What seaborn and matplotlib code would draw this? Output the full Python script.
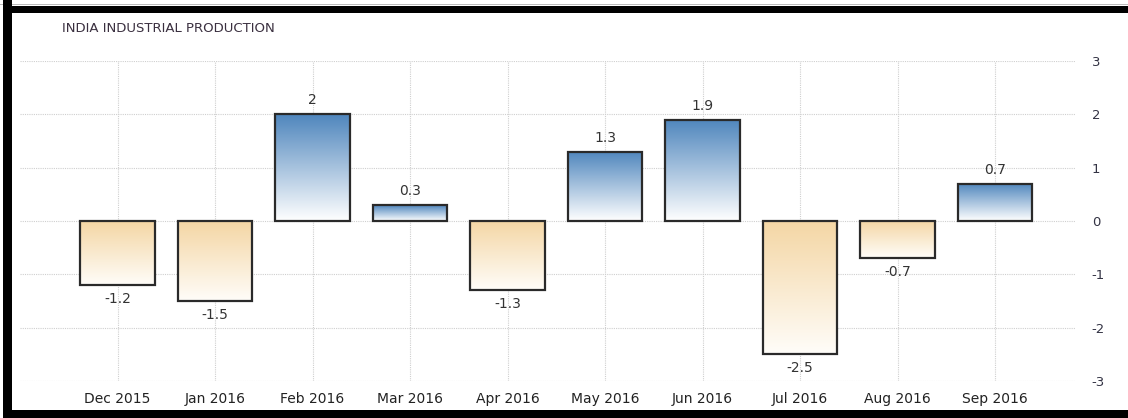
import numpy as np
import pandas as pd
import seaborn as sns
import matplotlib.pyplot as plt
from matplotlib.patches import Rectangle
from matplotlib.colors import LinearSegmentedColormap

# data
months = ["Dec 2015", "Jan 2016", "Feb 2016", "Mar 2016", "Apr 2016",
          "May 2016", "Jun 2016", "Jul 2016", "Aug 2016", "Sep 2016"]
values = [-1.2, -1.5, 2.0, 0.3, -1.3, 1.3, 1.9, -2.5, -0.7, 0.7]
labels = ["-1.2", "-1.5", "2", "0.3", "-1.3", "1.3", "1.9", "-2.5", "-0.7", "0.7"]
yticks = [-3, -2, -1, 0, 1, 2, 3]

df = pd.DataFrame({"month": months, "value": values})

sns.set_style("white")
plt.rcParams['font.family'] = ['DejaVu Sans']
plt.rcParams['axes.unicode_minus'] = False

W, H = 1128, 418
fig = plt.figure(figsize=(W / 100, H / 100), dpi=100)
ax = fig.add_axes([20 / W, 37 / H, (1075 - 20) / W, (381 - 61) / H])

sns.barplot(data=df, x="month", y="value", ax=ax, width=0.76,
            color="white", edgecolor="#2a2a2a", linewidth=1.6, zorder=3)

blue = LinearSegmentedColormap.from_list("b", ["#ffffff", "#4f86bd"])
tan = LinearSegmentedColormap.from_list("t", ["#fffdf9", "#f4d6a4"])
grad = np.linspace(0, 1, 256).reshape(-1, 1)

for bar, v in zip(ax.patches, values):
    x0, y0 = bar.get_x(), bar.get_y()
    w, h = bar.get_width(), bar.get_height()
    bot, top = min(y0, y0 + h), max(y0, y0 + h)
    cmap = blue if v > 0 else tan
    im = ax.imshow(grad, cmap=cmap, aspect="auto", origin="lower",
                   extent=[x0, x0 + w, bot, top], zorder=3.5)
    im.set_clip_path(bar)
    bar.set_zorder(4)
    bar.set_facecolor("none")

for i, (v, lab) in enumerate(zip(values, labels)):
    off = 0.13 if v > 0 else -0.13
    ax.text(i, v + off, lab, ha="center", va="bottom" if v > 0 else "top",
            fontsize=10, color="#333333", zorder=5)

ax.set_xlim(-1.0, 9.82)
ax.set_ylim(-3, 3)
ax.set_yticks(yticks)
ax.yaxis.tick_right()
ax.tick_params(axis="y", length=0, pad=12, labelsize=9.5, labelcolor="#333344")
ax.tick_params(axis="x", length=0, pad=8, labelsize=10, labelcolor="#222222")
ax.set_xlabel("")
ax.set_ylabel("")
ax.grid(True, color="#cfcfcf", linestyle=(0, (1, 1)), linewidth=0.8, zorder=0)
ax.set_axisbelow(True)
for s in ax.spines.values():
    s.set_visible(False)

fig.text(62 / W, 1 - 28 / H, "INDIA INDUSTRIAL PRODUCTION", fontsize=9.5,
         color="#3b3040", va="center", ha="left")

# black frame (top, left, bottom) around the screenshot
fig.patches.append(Rectangle((0, 1 - 5 / H), 1, 1 / H, transform=fig.transFigure,
                             facecolor="#bbbbbb", edgecolor="none", figure=fig))
fig.patches.append(Rectangle((3 / W, 1 - 13 / H), 1, 7 / H, transform=fig.transFigure,
                             facecolor="black", edgecolor="none", figure=fig))
fig.patches.append(Rectangle((3 / W, 0), 9 / W, 1, transform=fig.transFigure,
                             facecolor="black", edgecolor="none", figure=fig))
fig.patches.append(Rectangle((3 / W, 0), 1, 8 / H, transform=fig.transFigure,
                             facecolor="black", edgecolor="none", figure=fig))

fig.savefig("out.png", dpi=100)
